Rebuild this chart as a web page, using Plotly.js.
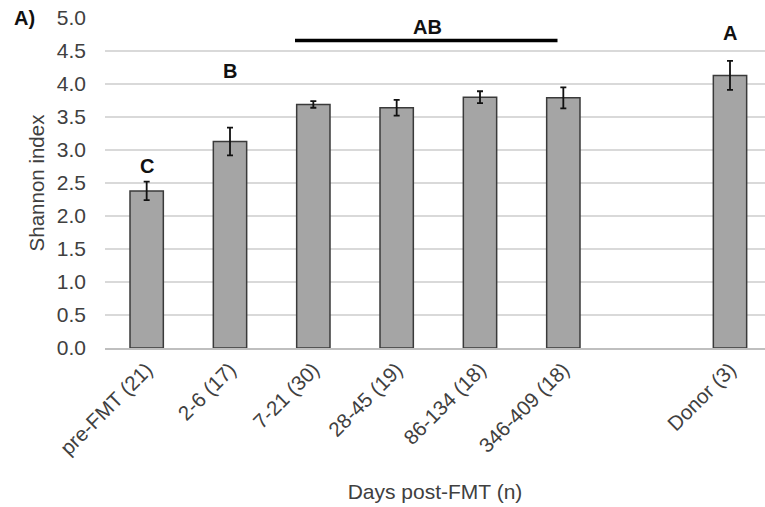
<!DOCTYPE html>
<html>
<head>
<meta charset="utf-8">
<script src="https://cdn.plot.ly/plotly-3.0.1.min.js"></script>
<style>html,body{margin:0;padding:0;background:#fff;}#chart{width:765px;height:507px;}</style>
</head>
<body>
<div id="chart"></div>
<script>
// Data
const categories = ['pre-FMT (21)', '2-6 (17)', '7-21 (30)', '28-45 (19)', '86-134 (18)', '346-409 (18)', ' ', 'Donor (3)'];
const shannon = [2.38, 3.13, 3.69, 3.64, 3.80, 3.79, null, 4.13];
const errors = [0.14, 0.21, 0.05, 0.12, 0.09, 0.16, null, 0.22];
const yTicks = [0, 0.5, 1, 1.5, 2, 2.5, 3, 3.5, 4, 4.5, 5];
const groupLetters = ['C', 'B', 'AB', 'A'];

const font = 'Liberation Sans, Arial, sans-serif';

const trace = {
  type: 'bar',
  x: categories,
  y: shannon,
  marker: {color: '#a5a5a5', line: {color: '#3a3a3a', width: 1.5}},
  error_y: {type: 'data', array: errors, visible: true, color: '#111', thickness: 1.8, width: 3},
  hoverinfo: 'skip'
};

const annFont = {family: font, size: 20, color: '#111'};
const layout = {
  width: 765, height: 507,
  margin: {l: 105, r: 0, t: 18, b: 159},
  paper_bgcolor: '#fff', plot_bgcolor: '#fff',
  showlegend: false,
  bargap: 0.6,
  xaxis: {
    type: 'category',
    range: [-0.5, 7.42],
    tickangle: -45,
    tickfont: {family: font, size: 20.5, color: '#404040'},
    showgrid: false,
    showline: true, linecolor: '#bfbfbf', linewidth: 1.5,
    ticks: '',
    automargin: false,
    title: {text: 'Days post-FMT (n)', font: {family: font, size: 21, color: '#404040'}, standoff: 26}
  },
  yaxis: {
    range: [0, 5.0],
    tickvals: yTicks,
    ticktext: yTicks.map(v => v.toFixed(1)),
    tickfont: {family: font, size: 21, color: '#404040'},
    ticklabelstandoff: 18,
    showgrid: true, gridcolor: '#d9d9d9', gridwidth: 1.5,
    zeroline: false, showline: false, ticks: '',
    automargin: false,
    title: {text: 'Shannon index', font: {family: font, size: 20.5, color: '#404040'}, standoff: 6}
  },
  shapes: [
    {type: 'line', xref: 'x', yref: 'y', x0: 1.78, x1: 4.93, y0: 4.66, y1: 4.66, line: {color: '#000', width: 3.5}}
  ],
  annotations: [
    {text: '<b>' + groupLetters[0] + '</b>', xref: 'x', yref: 'y', x: 0, y: 2.76, showarrow: false, font: annFont},
    {text: '<b>' + groupLetters[1] + '</b>', xref: 'x', yref: 'y', x: 1, y: 4.19, showarrow: false, font: annFont},
    {text: '<b>' + groupLetters[2] + '</b>', xref: 'x', yref: 'y', x: 3.37, y: 4.87, showarrow: false, font: annFont},
    {text: '<b>' + groupLetters[3] + '</b>', xref: 'x', yref: 'y', x: 7, y: 4.78, showarrow: false, font: annFont},
    {text: '<b>A)</b>', xref: 'paper', yref: 'paper', x: -0.122, y: 1.0, xanchor: 'center', yanchor: 'middle', showarrow: false, font: {family: font, size: 20, color: '#111'}}
  ]
};

Plotly.newPlot('chart', [trace], layout, {staticPlot: true, displayModeBar: false});
</script>
</body>
</html>
